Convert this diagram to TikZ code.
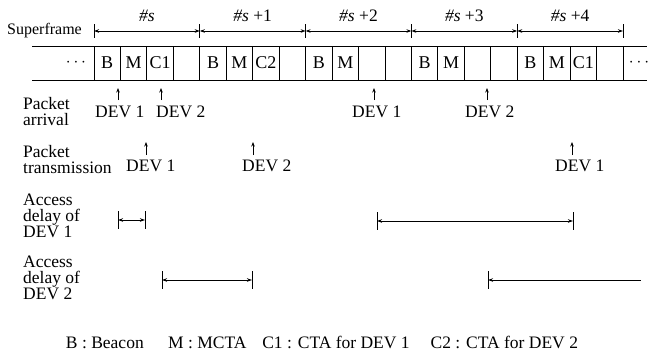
\documentclass[tikz,border=0pt]{standalone}
\usepackage{fontspec}
\setmainfont{Liberation Serif}
\usetikzlibrary{arrows.meta}

\begin{document}
\begin{tikzpicture}[x=1pt,y=-1pt,
  txt/.style={font=\fontsize{17.5}{16}\selectfont, inner sep=0pt},
  lbl/.style={txt, align=left, anchor=west},
  devlbl/.style={txt, anchor=north west},
  slot/.style={draw, line width=0.9pt, minimum width=26.45pt, minimum height=34pt,
    inner sep=0pt, font=\fontsize{18}{18}\selectfont},
  uparrow/.style={-{Stealth[length=4.5pt,width=3.5pt]}, line width=0.9pt},
  spanarrow/.style={{Stealth[length=5pt,width=3.5pt]}-{Stealth[length=5pt,width=3.5pt]}, line width=1pt},
  openarrow/.style={{Stealth[length=5pt,width=3.5pt]}-, line width=1pt},
  tickline/.style={line width=1pt},
  ]
\useasboundingbox (0,0) rectangle (648,359);

% ---- superframe scale ----
\node[txt, font=\fontsize{16}{16}\selectfont, anchor=west] (sflabel) at (7,31) {Superframe};
\foreach \j in {0,...,5} {
  \coordinate (b\j) at ({94+105.8*\j},31);
  \draw[tickline] ({94+105.8*\j},24) -- ({94+105.8*\j},38);
}
\foreach \j/\t [remember=\j as \jp (initially 0)] in {1/{\textit{\#s}},2/{\textit{\#s} +1},3/{\textit{\#s} +2},4/{\textit{\#s} +3},5/{\textit{\#s} +4}} {
  \draw[spanarrow] (b\jp) -- (b\j);
  \node[txt] (sf\j) at ({94+105.8*(\j-0.5)},16) {\t};
}

% ---- slot row ----
\draw[line width=0.9pt] (32,46) -- (647,46);
\draw[line width=0.9pt] (32,80) -- (647,80);
\node[txt] (dotsL) at (76,63) {$\cdots$};
\node[txt] (dotsR) at (639,63) {$\cdots$};
\foreach \lab [count=\i from 0] in {B,M,C1,{},B,M,C2,{},B,M,{},{},B,M,{},{},B,M,C1,{}} {
  \node[slot] (s\i) at ({94+26.45*(\i+0.5)},63) {\lab};
}

% ---- row labels ----
\node[lbl] (arrlbl) at (23,112) {Packet\\arrival};
\node[lbl] (txlbl) at (23,160) {Packet\\transmission};
\node[lbl] (d1lbl) at (23,216) {Access\\delay of\\DEV 1};
\node[lbl] (d2lbl) at (23,278) {Access\\delay of\\DEV 2};

% ---- packet arrivals (arrow x / label left edge / device) ----
\foreach \x/\l/\d/\n in {118/95/1/a1, 161/156/2/a2, 374/352/1/a3, 487/465/2/a4} {
  \coordinate (\n base) at (\x,100);
  \coordinate (\n tip) at (\x,88);
  \draw[uparrow] (\n base) -- (\n tip);
  \node[devlbl] (\n) at (\l,106) {DEV \d};
}

% ---- packet transmissions ----
\foreach \x/\l/\d/\n in {146/126/1/t1, 253/242/2/t2, 572/555/1/t3} {
  \coordinate (\n base) at (\x,155);
  \coordinate (\n tip) at (\x,142);
  \draw[uparrow] (\n base) -- (\n tip);
  \node[devlbl] (\n) at (\l,160) {DEV \d};
}

% ---- access delays ----
\foreach \xa/\xb/\y/\n in {118/145/220/p, 377/573/221/q, 162/252/280/r} {
  \coordinate (\n L) at (\xa,\y);
  \coordinate (\n R) at (\xb,\y);
  \draw[tickline] (\xa,\y-9) -- (\xa,\y+9);
  \draw[tickline] (\xb,\y-9) -- (\xb,\y+9);
  \draw[spanarrow] (\n L) -- (\n R);
}
\coordinate (uL) at (488,280);
\coordinate (uR) at (641,280);
\draw[tickline] (488,271) -- (488,289);
\draw[openarrow] (uL) -- (uR);

% ---- legend ----
\node[txt] (legend) at (322,342) {B : Beacon\hspace{1.4em}M : MCTA\hspace{0.9em}C1 : CTA for DEV 1\hspace{1.2em}C2 : CTA for DEV 2};
\end{tikzpicture}
\end{document}
